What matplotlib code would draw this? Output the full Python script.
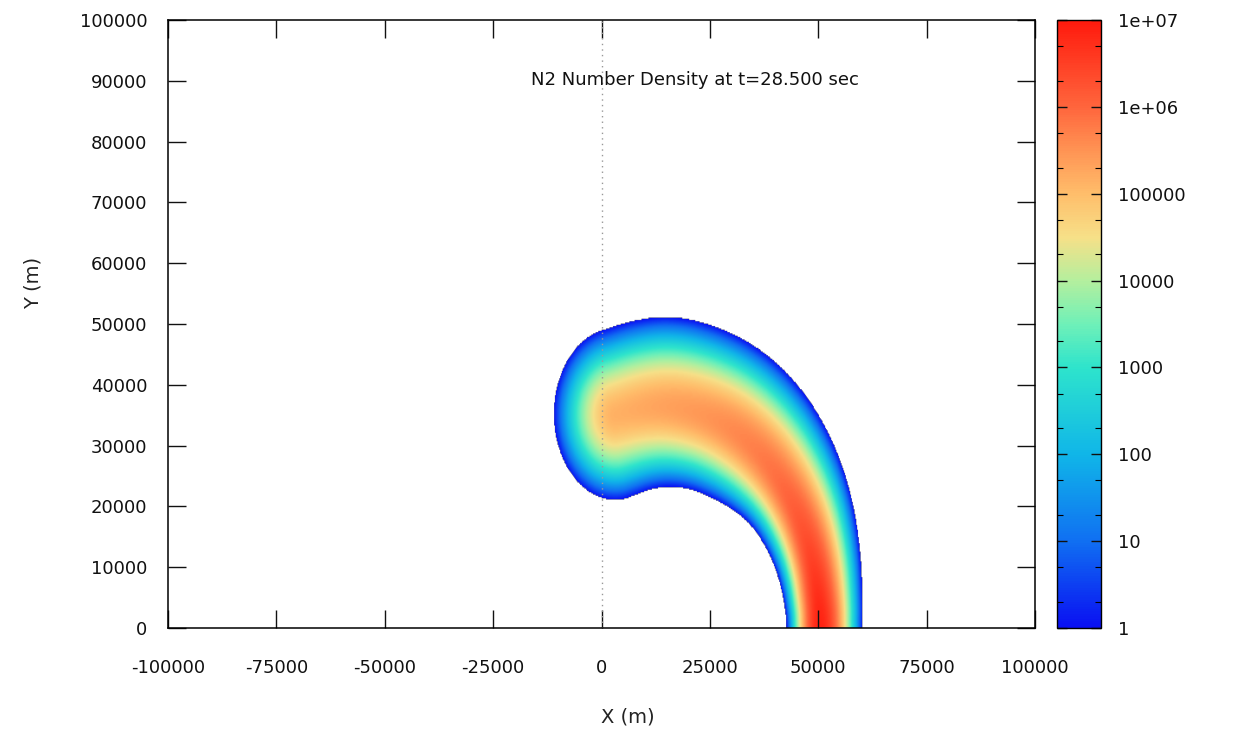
import matplotlib

matplotlib.use("Agg")
import matplotlib.pyplot as plt
import numpy as np
from matplotlib.colors import LinearSegmentedColormap, LogNorm
from matplotlib.ticker import FixedLocator, FuncFormatter

# =====================================================
#              Data
# =====================================================
# centreline of the plume core (metres), from the head down to the ground
core_x = [3240, 9610, 16000, 23490, 30520, 36810, 42010, 46140, 48910, 50310, 50500, 50800]
core_y = [35050, 36240, 36500, 35210, 32610, 28640, 23420, 17400, 10690, 3610, 0, -5000]
# distance from the core at which the density drops to 1, outer / inner side
half_outer = [14300, 14600, 14900, 14800, 14750, 14400, 13800, 12700, 11300, 10200, 9830, 9830]
half_inner = [14000, 13500, 13200, 12650, 12250, 11300, 9800, 8970, 8200, 7730, 7700, 7700]
# log10 of the peak N2 number density along the core
core_log_peak = [5.15, 5.25, 5.35, 5.45, 5.6, 5.75, 5.95, 6.2, 6.5, 6.8, 6.9, 6.9]

x_ticks = [-100000, -75000, -50000, -25000, 0, 25000, 50000, 75000, 100000]
y_ticks = [0, 10000, 20000, 30000, 40000, 50000, 60000, 70000, 80000, 90000, 100000]
cb_ticks = [1, 10, 100, 1000, 10000, 100000, 1e6, 1e7]

title = "N2 Number Density at t=28.500 sec"

# gnuplot-like palette, blue -> cyan -> green -> yellow -> orange -> red
palette = [
    (0.0, "#0a10f2"),
    (1 / 7, "#1070f2"),
    (2 / 7, "#10b6e8"),
    (3 / 7, "#2ee4cc"),
    (3.5 / 7, "#6ff0b8"),
    (4 / 7, "#b4ef9e"),
    (4.5 / 7, "#f6e088"),
    (5 / 7, "#ffbe6b"),
    (5.5 / 7, "#ff9454"),
    (6 / 7, "#ff663d"),
    (1.0, "#ff1a0d"),
]


# =====================================================
#              Density field from the core line
# =====================================================
def chaikin(a, n_iter=4):
    """corner cutting, keeps both end points"""
    for _ in range(n_iter):
        q = 0.75 * a[:-1] + 0.25 * a[1:]
        r = 0.25 * a[:-1] + 0.75 * a[1:]
        mid = np.empty((2 * len(q), a.shape[1]))
        mid[0::2] = q
        mid[1::2] = r
        a = np.vstack([a[:1], mid, a[-1:]])
    return a


def blur(a, sigma):
    """small separable gaussian blur (grid cells)"""
    r = int(3 * sigma)
    k = np.exp(-0.5 * (np.arange(-r, r + 1) / sigma) ** 2)
    k /= k.sum()
    pad = np.pad(a, r, mode="edge")
    pad = np.apply_along_axis(lambda m: np.convolve(m, k, mode="same"), 0, pad)
    pad = np.apply_along_axis(lambda m: np.convolve(m, k, mode="same"), 1, pad)
    return pad[r:-r, r:-r]


def plume_field(gx, gy):
    """log10 density on the grid, masked outside the plume"""
    ctrl = np.column_stack([core_x, core_y, half_outer, half_inner, core_log_peak])
    line = chaikin(ctrl.astype(float))
    pts, vals = line[:, :2], line[:, 2:]

    best_d = np.full(gx.shape, np.inf)
    best_i = np.zeros(gx.shape, dtype=int)
    best_u = np.zeros(gx.shape)
    best_c = np.zeros(gx.shape)
    for i in range(len(pts) - 1):
        dx, dy = pts[i + 1] - pts[i]
        L = np.hypot(dx, dy)
        rx = gx - pts[i, 0]
        ry = gy - pts[i, 1]
        u = np.clip((rx * dx + ry * dy) / L**2, 0, 1)
        d = np.hypot(rx - u * dx, ry - u * dy)
        c = (dx * ry - dy * rx) / L / np.maximum(d, 1e-9)
        closer = d < best_d
        best_d[closer] = d[closer]
        best_i[closer] = i
        best_u[closer] = u[closer]
        best_c[closer] = c[closer]

    v = vals[best_i] + best_u[..., None] * (vals[best_i + 1] - vals[best_i])
    w_out, w_in, peak = v[..., 0], v[..., 1], v[..., 2]
    w = w_in + (w_out - w_in) * (1 + np.clip(best_c, -1, 1)) / 2
    logn = blur(peak * (1 - (best_d / w) ** 2), 1.5)
    return np.ma.masked_less(logn, 0)


# =====================================================
#                      Plot
# =====================================================
plt.rcParams["font.family"] = ["DejaVu Sans"]
plt.rcParams["axes.unicode_minus"] = False

W, H = 1237, 738
fig = plt.figure(figsize=(W / 100, H / 100), dpi=100)
ax = fig.add_axes([168 / W, 1 - 628 / H, 867 / W, 608 / H])

x0, x1, y0, y1 = -30000, 80000, 0, 60000
gx, gy = np.meshgrid(np.linspace(x0, x1, 551), np.linspace(y0, y1, 301))
density = 10 ** plume_field(gx, gy)

cmap = LinearSegmentedColormap.from_list("gp", palette)
im = ax.imshow(
    density,
    extent=[x0, x1, y0, y1],
    origin="lower",
    aspect="auto",
    cmap=cmap,
    norm=LogNorm(vmin=1, vmax=1e7),
    interpolation="bilinear",
    zorder=1,
)

ax.axvline(0, color="#999999", linestyle=(0, (1, 3)), linewidth=1.0, zorder=2)

ax.set_xlim(-100000, 100000)
ax.set_ylim(0, 100000)
ax.set_xticks(x_ticks)
ax.set_yticks(y_ticks)
ax.xaxis.set_major_formatter(FuncFormatter(lambda v, p: "%d" % v))
ax.yaxis.set_major_formatter(FuncFormatter(lambda v, p: "%d" % v))
ax.tick_params(direction="in", length=13, width=1.0, top=True, right=True,
               labelsize=13, colors="#111111")
ax.tick_params(axis="x", pad=22)
ax.tick_params(axis="y", pad=15)
for sp in ax.spines.values():
    sp.set_linewidth(1.1)

ax.text(0.608, 0.901, title, transform=ax.transAxes, ha="center", va="center",
        fontsize=13, color="#111111")

fig.text(628 / W, 1 - 717 / H, "X (m)", ha="center", va="center", fontsize=14,
         color="#222222")
fig.text(33 / W, 1 - 283 / H, "Y (m)", ha="center", va="center", fontsize=14,
         rotation=90, color="#222222")

# colour box
cax = fig.add_axes([1057 / W, 1 - 628 / H, 44 / W, 608 / H])
cb = fig.colorbar(im, cax=cax)
cb.outline.set_linewidth(1.0)
cax.yaxis.set_major_locator(FixedLocator(cb_ticks))
cax.yaxis.set_minor_locator(FixedLocator([m * t for t in cb_ticks[:-1] for m in (2, 5)]))
cax.yaxis.set_major_formatter(FuncFormatter(lambda v, p: "%g" % v))
cax.tick_params(which="major", direction="in", length=7, width=1.0, left=True,
                right=True, labelsize=13, pad=12, colors="#111111")
cax.tick_params(which="minor", direction="in", length=4, width=0.8, left=True,
                right=True)

fig.savefig("out.png", dpi=100)
